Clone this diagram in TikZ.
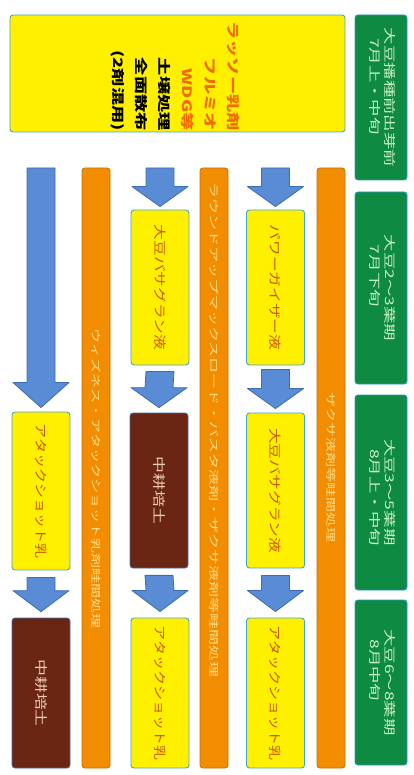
\documentclass[tikz,border=0pt]{standalone}
\usepackage{fontspec}
\usepackage{graphicx}
\newfontfamily\jp{Noto Sans CJK JP}
\usetikzlibrary{calc}
\definecolor{ylw}{HTML}{FFF000}
\definecolor{ylwline}{HTML}{3FA6D8}
\definecolor{grn}{HTML}{0E8A42}
\definecolor{grnline}{HTML}{2A9AC0}
\definecolor{grntext}{HTML}{C8F0C0}
\definecolor{brn}{HTML}{6A2612}
\definecolor{brntext}{HTML}{EBCBB4}
\definecolor{org}{HTML}{F28C00}
\definecolor{orgline}{HTML}{C4760C}
\definecolor{orgtext}{HTML}{FFE08A}
\definecolor{redtext}{HTML}{F06A00}
\definecolor{ytext}{HTML}{C85800}
\definecolor{blu}{HTML}{5A8CD6}
\definecolor{bluline}{HTML}{3C6CB4}
\newcommand\sx[2]{\scalebox{#1}[1]{#2}}
\newcommand\blockarrow[3]{\draw[barrow] ($(#1)+(-14,0)$) -- ($(#1)+(14,0)$) -- ($(#2)+(14,-#3)$) -- ($(#2)+(28,-#3)$) -- (#2) -- ($(#2)+(-28,-#3)$) -- ($(#2)+(-14,-#3)$) -- cycle;}
\begin{document}
\begin{tikzpicture}[x=1pt,y=-1pt,
  ybox/.style={fill=ylw,draw=ylwline,line width=0.9pt,rounded corners=3pt,inner sep=0pt},
  gbox/.style={fill=grn,draw=grnline,line width=0.9pt,rounded corners=3pt,inner sep=0pt,text=grntext,font=\jp\fontsize{12}{15}\selectfont},
  bbox/.style={fill=brn,draw=bluline,line width=0.7pt,rounded corners=3pt,inner sep=0pt,text=brntext,font=\jp\fontsize{13}{16}\selectfont},
  obar/.style={fill=org,draw=orgline,line width=0.9pt,rounded corners=3pt,inner sep=0pt},
  bartext/.style={inner sep=0pt,text=orgtext,font=\jp\fontsize{10}{12}\selectfont},
  yt/.style={text=ytext,font=\jp\fontsize{12.5}{15}\selectfont},
  barrow/.style={fill=blu,draw=bluline,line width=0.8pt,line join=round}]
\useasboundingbox[fill=white] (0,0) rectangle (414,775);

% top box
\node[ybox, minimum width=335, minimum height=117] (top) at (177.5,73.5) {};
\node[inner sep=0pt, rotate=-90, anchor=east, font=\jp\bfseries\fontsize{13}{23}\selectfont] (toptext) at (176,131)
  {\sx{1.4}{\begin{tabular}{@{}r@{}}\textcolor{redtext}{ラッソー乳剤}\\\textcolor{redtext}{フルミオ}\\\textcolor{redtext}{WDG等}\\土壌処理\\全面散布\\(2剤混用)\end{tabular}}};

% green period boxes
\node[gbox, rotate=-90, minimum width=165, minimum height=52] (g1) at (381,97.5)
  {\sx{1.45}{\begin{tabular}{@{}l@{}}大豆播種前出芽前\\\hspace*{7pt}7月上・中旬\end{tabular}}};
\node[gbox, rotate=-90, minimum width=192, minimum height=52] (g2) at (381,288)
  {\sx{1.45}{\begin{tabular}{@{}l@{}}大豆2～3葉期\\\hspace*{7pt}7月下旬\end{tabular}}};
\node[gbox, rotate=-90, minimum width=195, minimum height=52] (g3) at (381,492.5)
  {\sx{1.45}{\begin{tabular}{@{}l@{}}大豆3～5葉期\\\hspace*{7pt}8月上・中旬\end{tabular}}};
\node[gbox, rotate=-90, minimum width=165, minimum height=52] (g4) at (381,682.5)
  {\sx{1.45}{\begin{tabular}{@{}l@{}}大豆6～8葉期\\\hspace*{7pt}8月中旬\end{tabular}}};

% orange bars
\node[obar, minimum width=28, minimum height=600] (bar2) at (96,468) {};
\node[obar, minimum width=28, minimum height=600] (bar3) at (214,468) {};
\node[obar, minimum width=28, minimum height=600] (bar5) at (331,468) {};
\node[bartext, rotate=-90, anchor=west] (bar2t) at (96,328) {\sx{1.5}{ウィズネス・アタックショット乳剤畦間処理}};
\node[bartext, rotate=-90, anchor=west] (bar3t) at (214,182) {\sx{1.6}{ラウンドアップマックスロード・バスタ液剤・ザクサ液剤等畦間処理}};
\node[bartext, rotate=-90, anchor=west] (bar5t) at (331,392) {\sx{1.5}{ザクサ液剤等畦間処理}};

% column 1
\node[ybox, yt, rotate=-90, minimum width=158, minimum height=58] (c1b) at (41,491) {\sx{1.2}{アタックショット乳}};
\node[bbox, rotate=-90, minimum width=150, minimum height=58] (c1c) at (41,693) {\sx{1.3}{中耕培土}};
% column 3
\node[ybox, yt, rotate=-90, minimum width=155, minimum height=58] (c3a) at (160,287.5) {\sx{1.25}{大豆バサグラン液}};
\node[bbox, rotate=-90, minimum width=155, minimum height=58] (c3b) at (159,490.5) {\sx{1.3}{中耕培土}};
\node[ybox, yt, rotate=-90, minimum width=150, minimum height=58] (c3c) at (160,693) {\sx{1.2}{アタックショット乳}};
% column 4
\node[ybox, yt, rotate=-90, minimum width=155, minimum height=58] (c4a) at (275.5,287.5) {\sx{1.25}{パワーガイザー液}};
\node[ybox, yt, rotate=-90, minimum width=155, minimum height=58] (c4b) at (275.5,490.5) {\sx{1.25}{大豆バサグラン液}};
\node[ybox, yt, rotate=-90, minimum width=150, minimum height=58] (c4c) at (275.5,693) {\sx{1.2}{アタックショット乳}};

% arrows
\coordinate (a1s) at (41,168);
\coordinate (a3s) at (160,168);
\coordinate (a4s) at (275.5,168);
\blockarrow{a1s}{$(c1b.west)+(0,-4)$}{25}
\blockarrow{$(c1b.east)+(0,7)$}{$(c1c.west)+(0,-6)$}{21}
\blockarrow{a3s}{$(c3a.west)+(0,-3)$}{20}
\blockarrow{$(c3a.east)+(0,6)$}{$(c3b.west)+(0,-5)$}{20}
\blockarrow{$(c3b.east)+(0,7)$}{$(c3c.west)+(0,-6)$}{21}
\blockarrow{a4s}{$(c4a.west)+(0,-3)$}{20}
\blockarrow{$(c4a.east)+(0,4)$}{$(c4b.west)+(0,-4)$}{20}
\blockarrow{$(c4b.east)+(0,7)$}{$(c4c.west)+(0,-6)$}{21}
\end{tikzpicture}
\end{document}
